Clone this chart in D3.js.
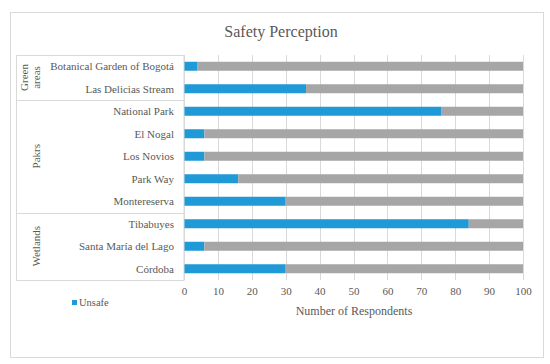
<!DOCTYPE html>
<html>
<head>
<meta charset="utf-8">
<script src="https://cdn.jsdelivr.net/npm/d3@7"></script>
<style>
  html, body { margin: 0; padding: 0; background: #fff; }
  svg { display: block; }
</style>
</head>
<body>
<svg id="chart" width="550" height="364" font-family="Liberation Serif"></svg>
<script>
const title = "Safety Perception";
const categories = ["Botanical Garden of Bogotá", "Las Delicias Stream", "National Park", "El Nogal", "Los Novios", "Park Way", "Montereserva", "Tibabuyes", "Santa María del Lago", "Córdoba"];
const groups = [
  { name: ["Green", "areas"], members: ["Botanical Garden of Bogotá", "Las Delicias Stream"] },
  { name: ["Pakrs"], members: ["National Park", "El Nogal", "Los Novios", "Park Way", "Montereserva"] },
  { name: ["Wetlands"], members: ["Tibabuyes", "Santa María del Lago", "Córdoba"] }
];
const unsafe = [4, 36, 76, 6, 6, 16, 30, 84, 6, 30];
const safe = [96, 64, 24, 94, 94, 84, 70, 16, 94, 70];
const xTicks = [0, 10, 20, 30, 40, 50, 60, 70, 80, 90, 100];
const xTitle = "Number of Respondents";
const legendLabel = "Unsafe";

const FONT = "Liberation Serif";
const TXT = "#595959";
const svg = d3.select("#chart");
const blue = "#1f9ad7", grey = "#a6a6a6", line = "#d9d9d9";

// outer frame
svg.append("rect").attr("x", 10.5).attr("y", 12.5).attr("width", 533).attr("height", 345)
  .attr("fill", "#fff").attr("stroke", line).attr("stroke-width", 1);

const x = d3.scaleLinear().domain([0, 100]).range([184, 523]);
const y = d3.scaleBand().domain(categories).range([55, 280]).paddingInner(0.6).paddingOuter(0.3);
const yb = d3.scaleBand().domain(categories).range([55, 280]);

// gridlines
svg.append("g").attr("transform", "translate(0,55)")
  .call(d3.axisBottom(x).tickValues(xTicks).tickSize(225).tickFormat(""))
  .call(g => g.select(".domain").remove())
  .call(g => g.selectAll("line").attr("stroke", line).attr("shape-rendering", "crispEdges"));

// bars
const stack = categories.map((c, i) => ({ c, u: unsafe[i], s: safe[i] }));
svg.append("g").selectAll("rect").data(stack).join("rect")
  .attr("x", d => x(0)).attr("y", d => y(d.c)).attr("height", y.bandwidth())
  .attr("width", d => x(d.u) - x(0)).attr("fill", blue);
svg.append("g").selectAll("rect").data(stack).join("rect")
  .attr("x", d => x(d.u)).attr("y", d => y(d.c)).attr("height", y.bandwidth())
  .attr("width", d => x(d.u + d.s) - x(d.u)).attr("fill", grey);

// x axis labels
svg.append("g").attr("transform", "translate(0,288)")
  .call(d3.axisBottom(x).tickValues(xTicks).tickSize(0).tickPadding(0))
  .call(g => g.select(".domain").remove())
  .call(g => g.attr("font-family", FONT).attr("font-size", 11))
  .call(g => g.selectAll("text").attr("dy", "0.6em").attr("fill", TXT));

function txt(sel) { return sel.attr("font-family", FONT).attr("fill", TXT); }

txt(svg.append("text")).attr("x", 354).attr("y", 315).attr("text-anchor", "middle")
  .attr("font-size", 12).text(xTitle);

// category box
svg.append("path")
  .attr("d", `M16.5,55.5 H184 M16.5,55.5 V280.5 H184`)
  .attr("fill", "none").attr("stroke", line);
svg.append("line").attr("x1", 184).attr("x2", 184).attr("y1", 55).attr("y2", 281).attr("stroke", line);

// category labels
txt(svg.append("g").selectAll("text").data(categories).join("text"))
  .attr("x", 174).attr("y", d => yb(d) + yb.bandwidth() / 2).attr("dy", "0.35em")
  .attr("text-anchor", "end").attr("font-size", 11).text(d => d);

// group separators and labels
groups.forEach((g, gi) => {
  const top = yb(g.members[0]);
  const bot = yb(g.members[g.members.length - 1]) + yb.bandwidth();
  if (gi > 0) {
    svg.append("line").attr("x1", 16).attr("x2", 184).attr("y1", Math.round(top) + 0.5).attr("y2", Math.round(top) + 0.5)
      .attr("stroke", line);
  }
  const cy = (top + bot) / 2;
  const n = g.name.length;
  g.name.forEach((t, li) => {
    const cx = n === 1 ? 36 : 24 + li * 12;
    txt(svg.append("text")).attr("transform", `translate(${cx},${cy}) rotate(-90)`)
      .attr("text-anchor", "middle").attr("dy", "0.35em").attr("font-size", 11).text(t);
  });
});

// title
txt(svg.append("text")).attr("x", 281).attr("y", 37).attr("text-anchor", "middle")
  .attr("font-size", 16).text(title);

// legend
svg.append("rect").attr("x", 72).attr("y", 300).attr("width", 5).attr("height", 5).attr("fill", blue);
txt(svg.append("text")).attr("x", 79).attr("y", 302.5).attr("dy", "0.35em").attr("font-size", 10.5).text(legendLabel);
</script>
</body>
</html>
